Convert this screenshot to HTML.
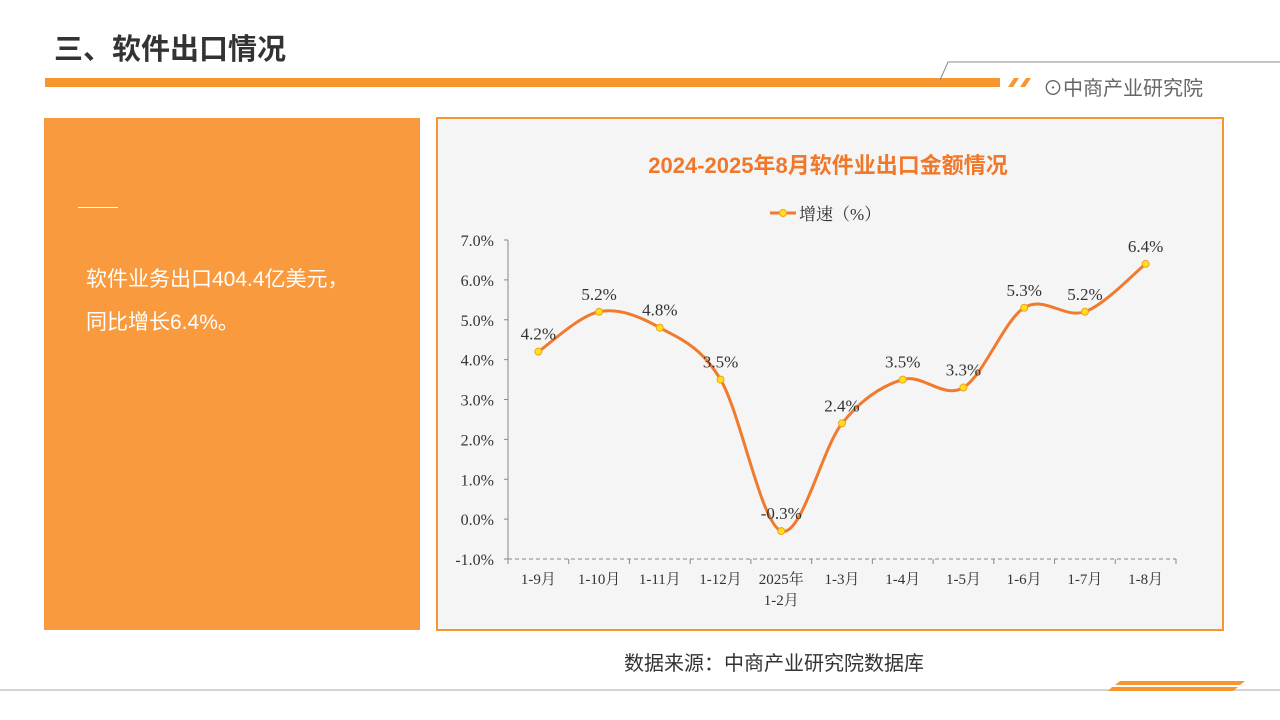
<!DOCTYPE html>
<html><head><meta charset="utf-8"><style>
body{margin:0;width:1280px;height:720px;overflow:hidden;background:#fff;font-family:"Liberation Sans","Noto Sans CJK SC",sans-serif;position:relative}
.abs{position:absolute}
</style></head><body>
<div class="abs" style="left:54px;top:26px;font-size:29px;font-weight:bold;color:#333">三、软件出口情况</div>
<div class="abs" style="left:45px;top:78px;width:955px;height:9px;background:#f7962f"></div>
<svg class="abs" style="left:0;top:0" width="1280" height="720">
<polyline points="940,80 948,62 1280,62" fill="none" stroke="#888" stroke-width="1"/>
<polygon points="1008,87 1014,78 1019,78 1013,87" fill="#f7962f"/>
<polygon points="1020,87 1026,78 1031,78 1025,87" fill="#f7962f"/>
<line x1="0" y1="690" x2="1280" y2="690" stroke="#aaa" stroke-width="1"/>
<polygon points="1120,681 1245,681 1240,685 1115,685" fill="#f7962f"/>
<polygon points="1112,687 1238,687 1233,691 1108,691" fill="#f7962f"/>
</svg>
<div class="abs" style="left:1043px;top:72px;font-size:20px;color:#666">⊙中商产业研究院</div>
<div class="abs" style="left:44px;top:118px;width:376px;height:512px;background:#f99a3e">
<div style="position:absolute;left:34px;top:89px;width:40px;height:1px;background:#fff"></div>
<div style="position:absolute;left:42px;top:140px;color:#fff;font-size:21px;line-height:43px">软件业务出口404.4亿美元，<br>同比增长6.4%。</div>
</div>
<div class="abs" style="left:436px;top:117px;width:784px;height:510px;border:2px solid #f7962f;background:#f5f5f5"></div>
<div class="abs" style="left:624px;top:647px;font-size:20px;color:#333">数据来源：中商产业研究院数据库</div>
<svg id="chart" class="abs" style="left:0;top:0" width="1280" height="720"></svg>
<script>
const categories=["1-9月","1-10月","1-11月","1-12月","2025年\n1-2月","1-3月","1-4月","1-5月","1-6月","1-7月","1-8月"];
const growth=[4.2,5.2,4.8,3.5,-0.3,2.4,3.5,3.3,5.3,5.2,6.4];
const yTicks=[-1,0,1,2,3,4,5,6,7];
const svg=document.getElementById('chart');
const NS='http://www.w3.org/2000/svg';
const x0=508,x1=1176,yTop=240,yBot=559,yMin=-1,yMax=7;
const step=(x1-x0)/categories.length;
const xs=i=>x0+step*(i+0.5);
const ys=v=>yBot-(v-yMin)/(yMax-yMin)*(yBot-yTop);
function mk(t,a,txt){const e=document.createElementNS(NS,t);for(const k in a)e.setAttribute(k,a[k]);if(txt!=null)e.textContent=txt;svg.appendChild(e);return e;}
let e=mk('text',{x:828,y:173,'text-anchor':'middle','font-size':22,'font-weight':'bold',fill:'#f0782a','font-family':'Liberation Sans,Noto Sans CJK SC,sans-serif'},'2024-2025年8月软件业出口金额情况');


mk('line',{x1:770,y1:213,x2:796,y2:213,stroke:'#f07a2e','stroke-width':3});
mk('circle',{cx:783,cy:213,r:3.5,fill:'#ffe11a',stroke:'#f0a020'});
e=mk('text',{x:799,y:220,'font-size':17,fill:'#333','font-family':'Liberation Serif,Noto Serif CJK SC,serif'},'增速（%）');


mk('line',{x1:x0,y1:yTop,x2:x0,y2:yBot,stroke:'#888'});
mk('line',{x1:x0,y1:yBot,x2:x1,y2:yBot,stroke:'#888','stroke-dasharray':'4,3'});
yTicks.forEach(v=>{const y=ys(v);mk('line',{x1:x0-4,y1:y,x2:x0,y2:y,stroke:'#888'});
const t=mk('text',{x:494,y:y+6,'text-anchor':'end','font-size':16,fill:'#333','font-family':'Liberation Serif,Noto Serif CJK SC,serif'},v.toFixed(1)+'%');

});
categories.forEach((c,i)=>{mk('line',{x1:x0+step*i,y1:yBot,x2:x0+step*i,y2:yBot+5,stroke:'#888'});
c.split('\n').forEach((ln,j)=>{const t=mk('text',{x:xs(i),y:584+j*21,'text-anchor':'middle','font-size':15,fill:'#333','font-family':'Liberation Serif,Noto Serif CJK SC,serif'},ln);

});});
mk('line',{x1:x1,y1:yBot,x2:x1,y2:yBot+5,stroke:'#888'});
const P=growth.map((v,i)=>[xs(i),ys(v)]);
let d='M'+P[0][0]+','+P[0][1];
for(let i=0;i<P.length-1;i++){const p0=P[Math.max(0,i-1)],p1=P[i],p2=P[i+1],p3=P[Math.min(P.length-1,i+2)];
d+=' C'+(p1[0]+(p2[0]-p0[0])/6)+','+(p1[1]+(p2[1]-p0[1])/6)+' '+(p2[0]-(p3[0]-p1[0])/6)+','+(p2[1]-(p3[1]-p1[1])/6)+' '+p2[0]+','+p2[1];}
e=mk('path',{d:d,fill:'none',stroke:'#f07a2e','stroke-width':3});


growth.forEach((v,i)=>{const c=mk('circle',{cx:xs(i),cy:ys(v),r:3.5,fill:'#ffe11a',stroke:'#f0a020'});


const t=mk('text',{x:xs(i),y:ys(v)-12,'text-anchor':'middle','font-size':17,fill:'#333','font-family':'Liberation Serif,Noto Serif CJK SC,serif'},v.toFixed(1)+'%');

});
</script>
</body></html>
